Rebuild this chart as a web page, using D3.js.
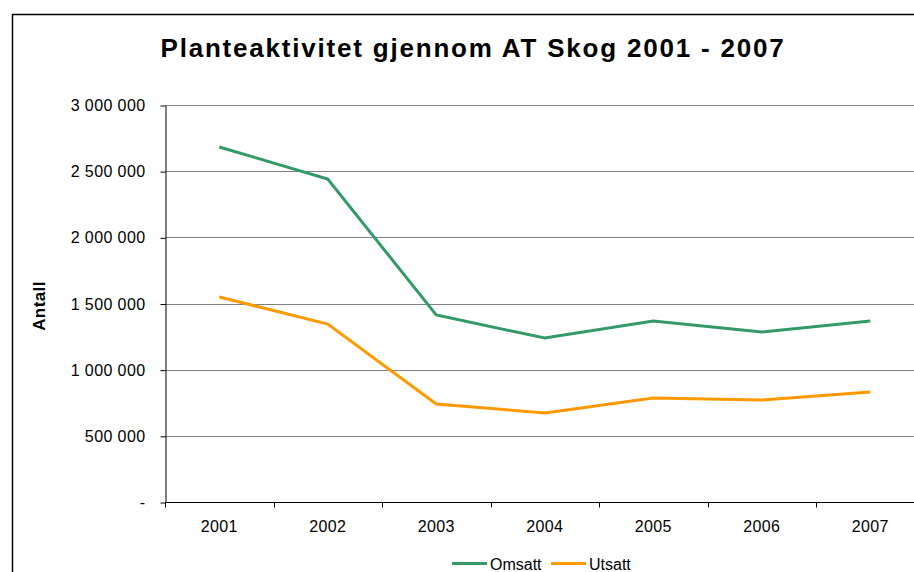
<!DOCTYPE html>
<html>
<head>
<meta charset="utf-8">
<script src="https://cdn.jsdelivr.net/npm/d3@7"></script>
<style>
  body { margin: 0; background: #fff; }
  text { font-family: "Liberation Sans", Arial, sans-serif; }
</style>
</head>
<body>
<script>
// data
var years = ["2001", "2002", "2003", "2004", "2005", "2006", "2007"];
var omsatt = [2683000, 2441000, 1413000, 1239000, 1368000, 1285000, 1368000];
var utsatt = [1549000, 1345000, 741000, 673000, 786000, 771000, 831000];
var yTicks = [0, 500000, 1000000, 1500000, 2000000, 2500000, 3000000];

// format numbers with space as thousands separator
function fmt(v) {
    if (v === 0) return "-";
    return v.toString().replace(/\B(?=(\d{3})+(?!\d))/g, " ");
}

var W = 914, H = 572;
var plotLeft = 165, plotTop = 105, plotBottom = 502, bandW = 108.5;

var svg = d3.select("body").append("svg")
    .attr("width", W)
    .attr("height", H);

// chart frame
svg.append("rect")
    .attr("x", 12.5).attr("y", 14.5)
    .attr("width", W + 20).attr("height", H + 20)
    .attr("fill", "#fff").attr("stroke", "#000").attr("stroke-width", 1.5);

var x = d3.scaleBand().domain(years).range([plotLeft, plotLeft + bandW * years.length]);
var y = d3.scaleLinear().domain([0, 3000000]).range([plotBottom, plotTop]);

// gridlines
svg.append("g").selectAll("line").data(yTicks.slice(1)).enter().append("line")
    .attr("x1", plotLeft).attr("x2", W)
    .attr("y1", function(d) { return Math.round(y(d)) + 0.5; })
    .attr("y2", function(d) { return Math.round(y(d)) + 0.5; })
    .attr("stroke", "#808080").attr("stroke-width", 1);

// y axis
var yAxis = svg.append("g")
    .attr("transform", "translate(" + (plotLeft + 0.5) + ",0.5)")
    .call(d3.axisLeft(y).tickValues(yTicks).tickFormat(fmt).tickSize(5).tickPadding(15).tickSizeOuter(0));
yAxis.select(".domain").attr("stroke", "#000");
yAxis.selectAll("text")
    .style("font-size", "16px").style("letter-spacing", "0.4px")
    .attr("fill", "#000");

// x axis
var xAxis = svg.append("g")
    .attr("transform", "translate(0," + (plotBottom + 0.5) + ")")
    .call(d3.axisBottom(x).tickSize(0).tickPadding(18).tickSizeOuter(0));
xAxis.select(".domain").attr("d", "M" + plotLeft + ",0H" + W).attr("stroke", "#000");
xAxis.selectAll("text")
    .style("font-size", "16px").style("letter-spacing", "0.4px")
    .attr("fill", "#000");
xAxis.append("g").selectAll("line").data(years).enter().append("line")
    .attr("x1", function(d) { return Math.round(x(d)) + 0.5; })
    .attr("x2", function(d) { return Math.round(x(d)) + 0.5; })
    .attr("y1", 0).attr("y2", 5)
    .attr("stroke", "#000");

// lines
var line = d3.line()
    .x(function(d, i) { return x(years[i]) + x.bandwidth() / 2; })
    .y(function(d) { return y(d); });

svg.append("path").datum(omsatt)
    .attr("d", line).attr("fill", "none")
    .attr("stroke", "#339966").attr("stroke-width", 3);
svg.append("path").datum(utsatt)
    .attr("d", line).attr("fill", "none")
    .attr("stroke", "#FF9900").attr("stroke-width", 3);

// title
svg.append("text")
    .attr("x", 473).attr("y", 57)
    .attr("text-anchor", "middle")
    .style("font-size", "26px").style("font-weight", "bold")
    .style("letter-spacing", "1.8px")
    .text("Planteaktivitet gjennom AT Skog 2001 - 2007");

// y axis title
svg.append("text")
    .attr("transform", "translate(45,306) rotate(-90)")
    .attr("text-anchor", "middle")
    .style("font-size", "17px").style("font-weight", "bold")
    .style("letter-spacing", "0.4px")
    .text("Antall");

// legend
var legend = [
    {name: "Omsatt", color: "#339966", x: 452},
    {name: "Utsatt", color: "#FF9900", x: 551}
];
var lg = svg.append("g");
legend.forEach(function(d) {
    lg.append("line")
        .attr("x1", d.x).attr("x2", d.x + 35)
        .attr("y1", 563.5).attr("y2", 563.5)
        .attr("stroke", d.color).attr("stroke-width", 3);
    lg.append("text")
        .attr("x", d.x + 38).attr("y", 570)
        .style("font-size", "16px")
        .text(d.name);
});
</script>
</body>
</html>
